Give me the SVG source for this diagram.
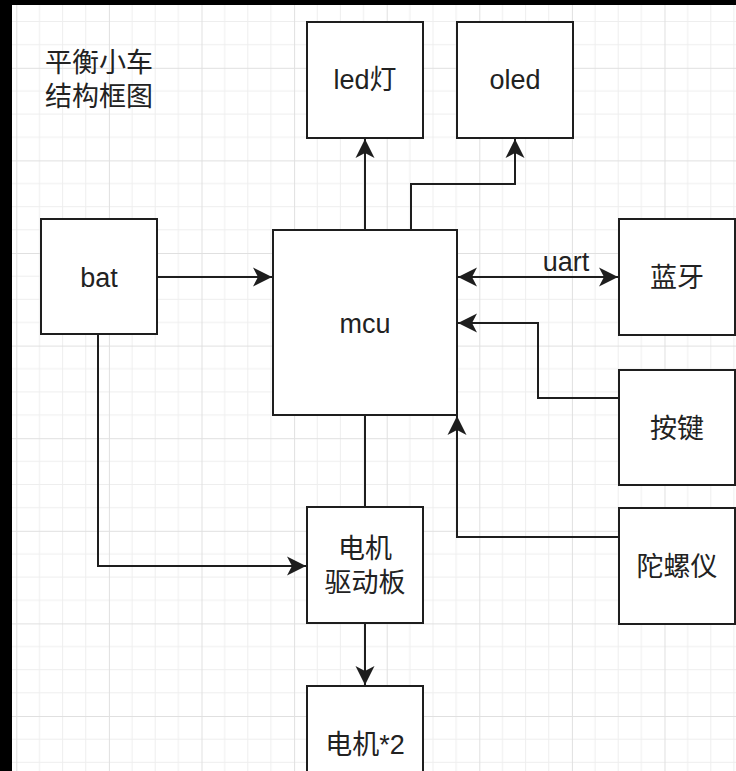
<svg xmlns="http://www.w3.org/2000/svg" width="736" height="771" viewBox="0 0 736 771">
<style>
.box{fill:#ffffff;stroke:#1e1e1e;stroke-width:2}
.t{font-family:"Liberation Sans","Noto Sans CJK SC",sans-serif;font-size:27px;fill:#222222;text-anchor:middle}
.tl{font-family:"Liberation Sans","Noto Sans CJK SC",sans-serif;font-size:27px;fill:#222222}
.ln{fill:none;stroke:#1e1e1e;stroke-width:2}
.minor{stroke:#eeeeee;stroke-width:1}
.major{stroke:#e0e0e0;stroke-width:1}
</style>
<defs>
<marker id="arr" markerUnits="userSpaceOnUse" markerWidth="22" markerHeight="22" viewBox="0 0 22 22" refX="21" refY="11" orient="auto-start-reverse">
<path d="M21,11 L2,1.5 L7,11 L2,20.5 Z" fill="#1e1e1e"/>
</marker>
<pattern id="grid" patternUnits="userSpaceOnUse" x="16.3" y="67.8" width="92.6" height="92.6">
<line class="minor" x1="23.15" y1="0" x2="23.15" y2="92.6"/>
<line class="minor" x1="46.3" y1="0" x2="46.3" y2="92.6"/>
<line class="minor" x1="69.45" y1="0" x2="69.45" y2="92.6"/>
<line class="minor" x1="0" y1="23.15" x2="92.6" y2="23.15"/>
<line class="minor" x1="0" y1="46.3" x2="92.6" y2="46.3"/>
<line class="minor" x1="0" y1="69.45" x2="92.6" y2="69.45"/>
<line class="major" x1="0.5" y1="0" x2="0.5" y2="92.6"/>
<line class="major" x1="0" y1="0.5" x2="92.6" y2="0.5"/>
</pattern>
</defs>
<rect x="0" y="0" width="736" height="771" fill="#000000"/>
<rect x="12" y="5" width="724" height="766" fill="#ffffff"/>
<rect x="12" y="5" width="724" height="766" fill="url(#grid)"/>

<g id="title">
<text class="tl" x="45" y="72">平衡小车</text>
<text class="tl" x="45" y="106">结构框图</text>
</g>

<g id="connectors">
<polyline class="ln" points="365,230 365,139" marker-end="url(#arr)"/>
<polyline class="ln" points="411,230 411,184 515,184 515,139" marker-end="url(#arr)"/>
<polyline class="ln" points="157,277 272,277" marker-end="url(#arr)"/>
<polyline class="ln" points="458,277 618,277" marker-start="url(#arr)" marker-end="url(#arr)"/>
<polyline class="ln" points="619,398 538,398 538,323 458,323" marker-end="url(#arr)"/>
<polyline class="ln" points="619,537 457,537 457,416" marker-end="url(#arr)"/>
<polyline class="ln" points="98,334 98,566 306,566" marker-end="url(#arr)"/>
<polyline class="ln" points="365,415 365,507"/>
<polyline class="ln" points="365,623 365,685" marker-end="url(#arr)"/>
<text class="t" x="566" y="271">uart</text>
</g>

<g id="led">
<rect class="box" x="307" y="22" width="116" height="116"/>
<text class="t" x="365" y="89">led灯</text>
</g>
<g id="oled">
<rect class="box" x="457" y="22" width="116" height="116"/>
<text class="t" x="515" y="89">oled</text>
</g>
<g id="bat">
<rect class="box" x="41" y="219" width="116" height="115"/>
<text class="t" x="99" y="287">bat</text>
</g>
<g id="mcu">
<rect class="box" x="273" y="230" width="184" height="185"/>
<text class="t" x="365" y="333">mcu</text>
</g>
<g id="bluetooth">
<rect class="box" x="619" y="219" width="116" height="116"/>
<text class="t" x="677" y="287">蓝牙</text>
</g>
<g id="key">
<rect class="box" x="619" y="370" width="116" height="115"/>
<text class="t" x="677" y="438">按键</text>
</g>
<g id="gyro">
<rect class="box" x="619" y="508" width="116" height="116"/>
<text class="t" x="677" y="576">陀螺仪</text>
</g>
<g id="driver">
<rect class="box" x="307" y="507" width="116" height="116"/>
<text class="t" x="365" y="558">电机</text>
<text class="t" x="365" y="592">驱动板</text>
</g>
<g id="motor">
<rect class="box" x="307" y="686" width="116" height="116"/>
<text class="t" x="365" y="754">电机*2</text>
</g>
</svg>
